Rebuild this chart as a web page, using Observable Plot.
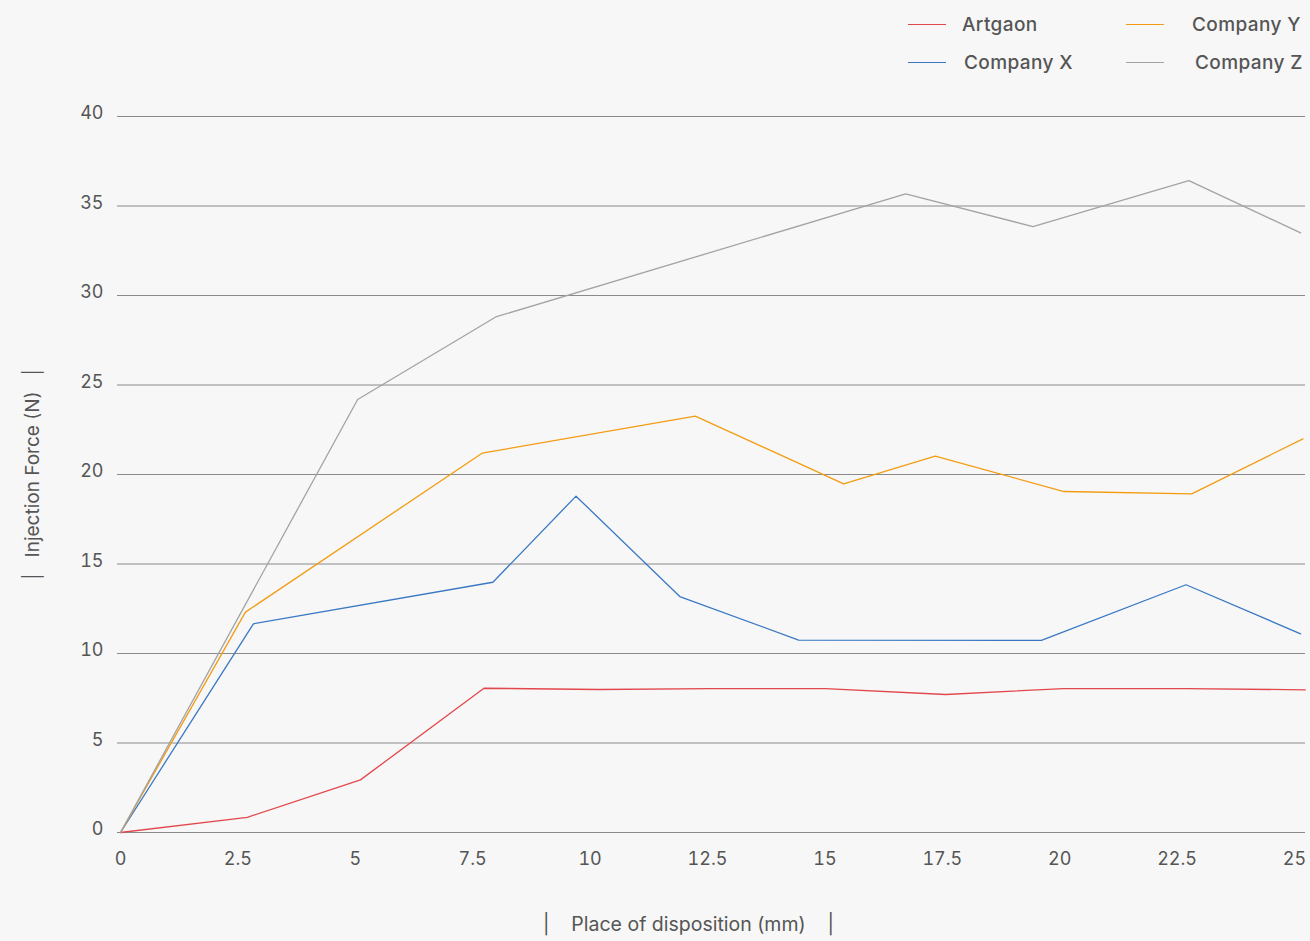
<!DOCTYPE html>
<html>
<head>
<meta charset="utf-8">
<script src="https://cdn.jsdelivr.net/npm/d3@7"></script>
<script src="https://cdn.jsdelivr.net/npm/@observablehq/plot@0.6"></script>
<style>
  html, body { margin: 0; padding: 0; background: #f7f7f7; }
  body { width: 1310px; height: 941px; overflow: hidden; font-family: Inter, "Open Sans", sans-serif; color: #555; }
  #wrap { position: relative; width: 1310px; }
  #legend { position: relative; height: 90px; }
  .item { position: absolute; display: flex; align-items: center; font-size: 19px; font-weight: 500; letter-spacing: 0.4px; color: #555; height: 24px; }
  .sw { width: 38px; height: 0; border-top: 1.5px solid; margin-right: 16px; }
</style>
</head>
<body>
<div id="wrap">
  <div id="legend"></div>
  <div id="chart"></div>
</div>
<script>
// ---- data ----
const seriesNames = ["Artgaon", "Company X", "Company Y", "Company Z"];
const seriesColors = ["#e2474c", "#3a78c4", "#f39c12", "#a3a3a3"];

const artgaonX = [0, 2.70, 5.11, 7.74, 10.18, 12.56, 15.01, 17.57, 20.08, 22.70, 25.23];
const artgaonY = [0, 0.85, 2.94, 8.06, 7.99, 8.04, 8.04, 7.71, 8.04, 8.04, 7.97];

const companyXX = [0, 2.83, 7.93, 9.70, 11.91, 14.44, 19.61, 22.69, 25.13];
const companyXY = [0, 11.66, 13.98, 18.79, 13.18, 10.75, 10.73, 13.84, 11.10];

const companyYX = [0, 2.66, 7.70, 12.24, 15.40, 17.35, 20.09, 22.81, 25.18];
const companyYY = [0, 12.31, 21.19, 23.26, 19.48, 21.02, 19.05, 18.92, 21.99];

const companyZX = [0, 5.05, 7.99, 16.72, 19.43, 22.75, 25.13];
const companyZY = [0, 24.19, 28.80, 35.68, 33.85, 36.42, 33.50];

const xTicks = [0, 2.5, 5, 7.5, 10, 12.5, 15, 17.5, 20, 22.5, 25];
const xTickLabels = ["0", "2.5", "5", "7.5", "10", "12.5", "15", "17.5", "20", "22.5", "25"];
const yTicks = [0, 5, 10, 15, 20, 25, 30, 35, 40];

const xTitle = "|    Place of disposition (mm)    |";
const yTitle = "|   Injection Force (N)   |";

// ---- build table ----
const seriesXs = [artgaonX, companyXX, companyYX, companyZX];
const seriesYs = [artgaonY, companyXY, companyYY, companyZY];
const rows = [];
seriesNames.forEach((name, i) => {
  seriesXs[i].forEach((x, j) => rows.push({series: name, x, y: seriesYs[i][j]}));
});

// ---- legend ----
const legend = document.getElementById("legend");
const legendPos = [
  {left: 908, top: 12}, {left: 908, top: 50}, {left: 1126, top: 12}, {left: 1126, top: 50}
];
const textGap = [16, 18, 28, 31];
seriesNames.forEach((name, i) => {
  const it = document.createElement("div");
  it.className = "item";
  it.style.left = legendPos[i].left + "px";
  it.style.top = legendPos[i].top + "px";
  const sw = document.createElement("span");
  sw.className = "sw";
  sw.style.borderTopColor = seriesColors[i];
  sw.style.marginRight = textGap[i] + "px";
  const t = document.createElement("span");
  t.textContent = name;
  it.appendChild(sw); it.appendChild(t);
  legend.appendChild(it);
});

// ---- chart ----
const chart = Plot.plot({
  width: 1310,
  height: 851,
  marginTop: 26,
  marginBottom: 109,
  marginLeft: 117,
  marginRight: 5,
  style: {background: "#f7f7f7", fontFamily: "Inter, 'Open Sans', sans-serif", fontSize: "18px", color: "#555"},
  x: {domain: [-3 / 46.96, 1185 / 46.96], axis: null},
  y: {domain: [0, 40], axis: null},
  color: {domain: seriesNames, range: seriesColors},
  marks: [
    Plot.gridY(yTicks, {stroke: "#8a8a8a", strokeOpacity: 1, strokeWidth: 1}),
    Plot.axisX(xTicks, {
      tickSize: 0, tickPadding: 20, fill: "#555", fontSize: 18,
      tickFormat: (d) => xTickLabels[xTicks.indexOf(d)], label: null
    }),
    Plot.axisY(yTicks, {tickSize: 0, tickPadding: 14, fill: "#555", fontSize: 18, label: null, dy: -3}),
    Plot.line(rows, {x: "x", y: "y", z: "series", stroke: "series", strokeWidth: 1.3}),
    Plot.text([xTitle], {frameAnchor: "bottom", dy: 98, dx: -23, text: (d) => d, fill: "#555", fontSize: 19.5, fontWeight: 400, letterSpacing: "0.3px"}),
    Plot.text([yTitle], {frameAnchor: "left", textAnchor: "middle", dx: -85, rotate: -90, text: (d) => d, fill: "#555", fontSize: 19, fontWeight: 400, letterSpacing: "0.3px"})
  ]
});
document.getElementById("chart").appendChild(chart);
</script>
</body>
</html>
